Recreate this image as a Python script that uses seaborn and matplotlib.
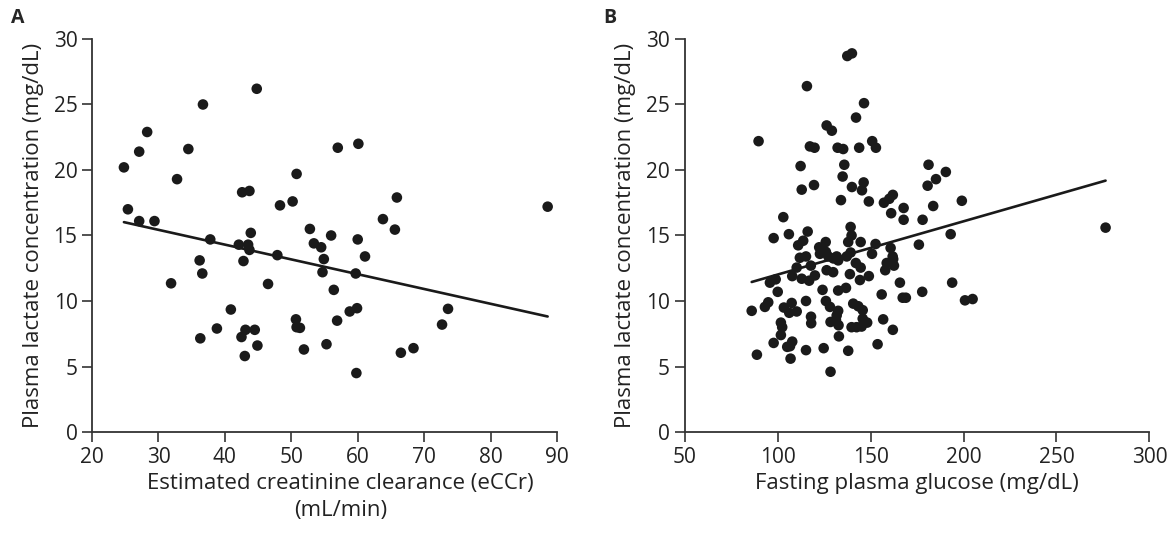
import numpy as np
import pandas as pd
import seaborn as sns
import matplotlib.pyplot as plt

# Panel A: eCCr vs plasma lactate
eccr = [44.8, 36.7, 28.3, 27.1, 34.5, 24.8, 57.0, 32.8, 50.8, 42.6, 43.7, 48.3, 50.2,
        25.4, 27.1, 29.4, 37.8, 43.9, 42.1, 43.5, 43.7, 47.9, 52.8, 53.4, 54.5, 56.0,
        54.9, 54.7, 36.2, 36.6, 42.8, 60.1, 65.9, 63.8, 65.6, 88.6, 60.0, 61.1, 59.7,
        31.9, 46.5, 56.4, 40.9, 50.7, 50.8, 51.3, 56.9, 38.8, 43.1, 44.5, 36.3, 42.5,
        44.9, 43.0, 51.9, 55.3, 58.8, 59.9, 66.5, 68.4, 72.7, 73.6, 59.8]
lactate_a = [26.2, 25.0, 22.9, 21.4, 21.6, 20.2, 21.7, 19.3, 19.7, 18.3, 18.4, 17.3, 17.6,
             17.0, 16.1, 16.1, 14.7, 15.2, 14.3, 14.3, 13.9, 13.5, 15.5, 14.4, 14.1, 15.0,
             13.2, 12.2, 13.1, 12.1, 13.05, 22.0, 17.9, 16.25, 15.45, 17.2, 14.7, 13.4, 12.1,
             11.35, 11.3, 10.85, 9.35, 8.6, 8.0, 7.95, 8.5, 7.9, 7.8, 7.8, 7.15, 7.25,
             6.6, 5.8, 6.3, 6.7, 9.2, 9.45, 6.05, 6.4, 8.2, 9.4, 4.5]
# fitted line as printed (intercept, slope)
fit_a = (18.82, -0.1129)

# Panel B: fasting plasma glucose vs plasma lactate
glucose = [115.8, 146.5, 142.2, 126.4, 129.2, 89.8, 117.4, 119.9, 132.3, 135.3, 143.9, 150.9,
           152.9, 112.4, 135.9, 135.0, 113.0, 119.6, 140.0, 146.3, 145.4, 134.1, 149.1, 157.2,
           160.1, 162.0, 167.8, 161.1, 167.8, 178.0, 181.2, 180.7, 103.1, 97.9, 106.1, 116.2,
           111.1, 113.8, 122.4, 125.9, 139.3, 139.8, 138.0, 144.7, 152.7, 176.0, 160.8, 150.8,
           161.9, 190.5, 185.2, 199.1, 183.7, 193.1, 276.4, 165.8, 167.3, 169.0, 177.8, 193.9,
           200.8, 204.9, 112.0, 115.3, 122.8, 127.3, 131.8, 132.6, 137.2, 139.3, 110.3, 117.9,
           142.1, 144.7, 158.7, 162.2, 162.6, 157.9, 95.9, 99.0, 107.9, 113.0, 117.0, 120.1,
           126.4, 129.9, 138.9, 144.3, 149.1, 156.0, 100.1, 124.2, 132.6, 136.8, 86.1, 93.2,
           95.0, 103.4, 106.3, 107.6, 110.3, 115.3, 126.0, 128.2, 132.6, 131.8, 140.7, 143.4,
           145.8, 118.0, 118.1, 128.5, 131.4, 132.8, 101.8, 102.5, 101.8, 145.8, 148.2, 139.8,
           142.5, 145.2, 156.8, 162.0, 133.0, 97.9, 105.2, 107.9, 106.7, 115.3, 124.8, 138.0,
           153.8, 88.9, 107.0, 128.5, 126.0, 130.0, 137.5, 140.0]
lactate_b = [26.4, 25.1, 24.0, 23.4, 23.0, 22.2, 21.8, 21.7, 21.7, 21.6, 21.7, 22.2,
             21.7, 20.3, 20.4, 19.5, 18.5, 18.85, 18.7, 19.05, 18.45, 17.7, 17.6, 17.5,
             17.8, 18.1, 17.1, 16.7, 16.2, 16.2, 20.4, 18.8, 16.4, 14.8, 15.1, 15.3,
             14.25, 14.6, 14.1, 14.5, 15.65, 15.0, 14.5, 14.5, 14.35, 14.3, 14.05, 13.6,
             13.4, 19.85, 19.3, 17.65, 17.25, 15.1, 15.6, 11.4, 10.25, 10.25, 10.7, 11.4,
             10.05, 10.15, 13.3, 13.4, 13.6, 13.4, 13.4, 13.1, 13.4, 13.7, 12.55, 12.7,
             12.9, 12.55, 12.9, 13.2, 12.7, 12.35, 11.4, 11.65, 11.9, 11.7, 11.55, 11.95,
             12.35, 12.2, 12.05, 11.6, 11.9, 10.5, 10.7, 10.85, 10.8, 11.0, 9.25, 9.55,
             9.9, 9.5, 9.1, 9.85, 9.2, 10.0, 10.0, 9.55, 9.25, 8.9, 9.8, 9.6,
             9.3, 8.8, 8.3, 8.4, 8.55, 8.15, 8.35, 8.0, 7.4, 8.65, 8.35, 8.0,
             8.0, 8.05, 8.6, 7.8, 7.3, 6.8, 6.5, 6.9, 6.55, 6.25, 6.4, 6.2,
             6.7, 5.9, 5.6, 4.6, 13.75, 13.25, 28.7, 28.9]
fit_b = (7.95, 0.04066)

df_a = pd.DataFrame({'eCCr': eccr, 'Lactate': lactate_a})
df_b = pd.DataFrame({'Glucose': glucose, 'Lactate': lactate_b})

sns.set_style('ticks')
plt.rcParams['font.family'] = ['Open Sans', 'DejaVu Sans']
plt.rcParams['axes.edgecolor'] = '#333333'
plt.rcParams['xtick.color'] = '#333333'
plt.rcParams['ytick.color'] = '#333333'
plt.rcParams['xtick.labelcolor'] = '#222222'
plt.rcParams['ytick.labelcolor'] = '#222222'

fig = plt.figure(figsize=(11.74, 5.34), dpi=100)
ax1 = fig.add_axes([0.0784, 0.191, 0.396, 0.736])
ax2 = fig.add_axes([0.5831, 0.191, 0.396, 0.736])

dot = '#1a1a1a'


def panel(ax, df, xcol, fit):
    sns.scatterplot(data=df, x=xcol, y='Lactate', ax=ax, s=58, color=dot,
                    edgecolor='none', clip_on=False, zorder=3)
    xs = np.array([df[xcol].min(), df[xcol].max()])
    sns.lineplot(x=xs, y=fit[0] + fit[1] * xs, ax=ax, color=dot, lw=1.9)


panel(ax1, df_a, 'eCCr', fit_a)
panel(ax2, df_b, 'Glucose', fit_b)

ax1.set_xlim(20, 90)
ax1.set_xticks(range(20, 91, 10))
ax2.set_xlim(50, 300)
ax2.set_xticks(range(50, 301, 50))

for ax in (ax1, ax2):
    ax.set_ylim(0, 30)
    ax.set_yticks(range(0, 31, 5))
    ax.set_ylabel('Plasma lactate concentration (mg/dL)', fontsize=16, color='#222222',
                  labelpad=7)
    ax.tick_params(axis='both', length=7, width=1.2, labelsize=15, direction='out')
    for sp in ('left', 'bottom'):
        ax.spines[sp].set_linewidth(1.3)
    sns.despine(ax=ax)

ax1.set_xlabel('Estimated creatinine clearance (eCCr)\n(mL/min)', fontsize=16,
               color='#222222', linespacing=1.35)
ax1.xaxis.label.set_x(0.535)
ax2.set_xlabel('Fasting plasma glucose (mg/dL)', fontsize=16, color='#222222')

fig.text(0.009, 0.985, 'A', fontsize=14, fontweight='bold', va='top')
fig.text(0.514, 0.985, 'B', fontsize=14, fontweight='bold', va='top')

fig.savefig('out.png', dpi=100)
